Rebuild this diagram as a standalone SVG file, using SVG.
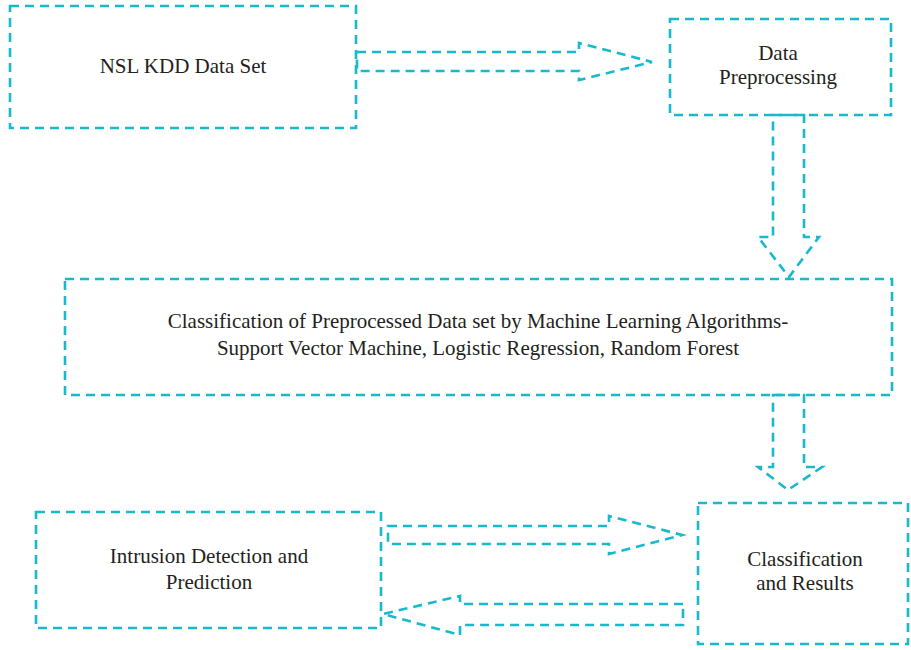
<svg xmlns="http://www.w3.org/2000/svg" width="911" height="650" viewBox="0 0 911 650">
<style>
.box{fill:none;stroke:#17BACD;stroke-width:2.6;stroke-dasharray:9 6;}
.arr{fill:none;stroke:#17BACD;stroke-width:2.6;stroke-dasharray:9 6;stroke-linejoin:miter;}
.t{font-family:"Liberation Serif","Times New Roman",serif;font-size:21px;fill:#231F20;text-anchor:middle;}
</style>
<rect width="911" height="650" fill="#ffffff"/>
<g id="connectors">
<polygon class="arr" points="357,52 579,52 579,43 652,62 579,80 579,71 357,71"/>
<polygon class="arr" points="773,115 804,115 804,237 819,237 789,277 758,237 773,237"/>
<polygon class="arr" points="773,395 804,395 804,467 822,467 788,490 758,467 773,467"/>
<polygon class="arr" points="388,526 609,526 609,516 682,535 609,554 609,544 388,544"/>
<polygon class="arr" points="683,604 460,604 460,596 383,614 460,635 460,625 683,625"/>
</g>
<g id="nsl">
<rect class="box" x="10" y="6" width="346" height="122"/>
<text class="t" x="183" y="73">NSL KDD Data Set</text>
</g>
<g id="preprocessing">
<rect class="box" x="670" y="19" width="221" height="96"/>
<text class="t" x="778" y="60">Data</text>
<text class="t" x="778" y="84">Preprocessing</text>
</g>
<g id="classification">
<rect class="box" x="65" y="279" width="827" height="116"/>
<text class="t" x="478" y="328">Classification of Preprocessed Data set by Machine Learning Algorithms-</text>
<text class="t" x="478" y="355">Support Vector Machine, Logistic Regression, Random Forest</text>
</g>
<g id="results">
<rect class="box" x="698" y="503" width="210" height="141"/>
<text class="t" x="805" y="566">Classification</text>
<text class="t" x="805" y="590">and Results</text>
</g>
<g id="intrusion">
<rect class="box" x="36" y="512" width="345" height="116"/>
<text class="t" x="209" y="563">Intrusion Detection and</text>
<text class="t" x="209" y="589">Prediction</text>
</g>
</svg>
